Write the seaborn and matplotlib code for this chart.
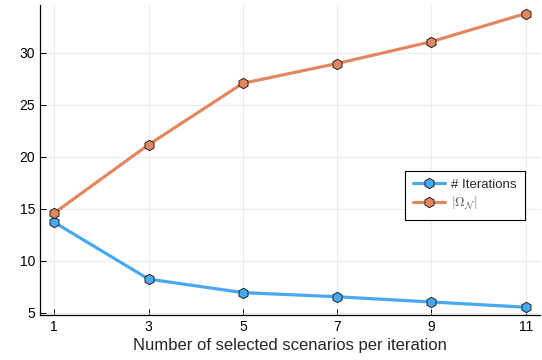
import numpy as np
import pandas as pd
import matplotlib
matplotlib.use("Agg")
import matplotlib.pyplot as plt
import seaborn as sns

scenarios = [1, 3, 5, 7, 9, 11]
iterations = [13.7, 8.25, 6.95, 6.55, 6.05, 5.55]
omega_size = [14.6, 21.15, 27.05, 28.95, 31.05, 33.75]

labels = ["# Iterations", r"$|\Omega_{\mathcal{N}}|$"]
colors = ["#47a9f0", "#e2875f"]

df = pd.DataFrame({
    "x": scenarios * 2,
    "y": iterations + omega_size,
    "serie": [labels[0]] * len(scenarios) + [labels[1]] * len(scenarios),
})

sns.set_style("white")
plt.rcParams["font.family"] = ["Liberation Sans", "DejaVu Sans"]
plt.rcParams["mathtext.fontset"] = "cm"

fig = plt.figure(figsize=(5.42, 3.6), dpi=100)
ax = fig.add_axes([0.074, 0.125, 0.922, 0.862])

sns.lineplot(data=df, x="x", y="y", hue="serie", palette=colors, marker="h",
             markersize=7.5, markeredgecolor="#222222", markeredgewidth=0.7,
             linewidth=2.3, ax=ax)

ax.set_xlim(0.7, 11.3)
ax.set_ylim(4.8, 34.6)
ax.set_xticks(scenarios)
ax.set_yticks([5, 10, 15, 20, 25, 30])
ax.grid(True, color="#e8e8e8", linewidth=0.6)
ax.set_axisbelow(True)
for s in ["top", "right"]:
    ax.spines[s].set_visible(False)
for s in ["left", "bottom"]:
    ax.spines[s].set_color("black")
    ax.spines[s].set_linewidth(0.9)
ax.tick_params(direction="in", length=4, width=0.7, labelsize=10, colors="black",
               left=True, bottom=True)
ax.set_xlabel("Number of selected scenarios per iteration", fontsize=12, labelpad=3)
ax.set_ylabel("")

leg = ax.legend(loc="upper right", bbox_to_anchor=(0.97, 0.465), fontsize=9.5,
                frameon=True, fancybox=False, edgecolor="black", framealpha=1,
                handlelength=2.4, handletextpad=0.5, borderpad=0.6,
                labelspacing=0.3, borderaxespad=0)
leg.get_frame().set_linewidth(0.8)
leg.get_texts()[1].set_color("#555555")

fig.savefig("out.png", dpi=100)
